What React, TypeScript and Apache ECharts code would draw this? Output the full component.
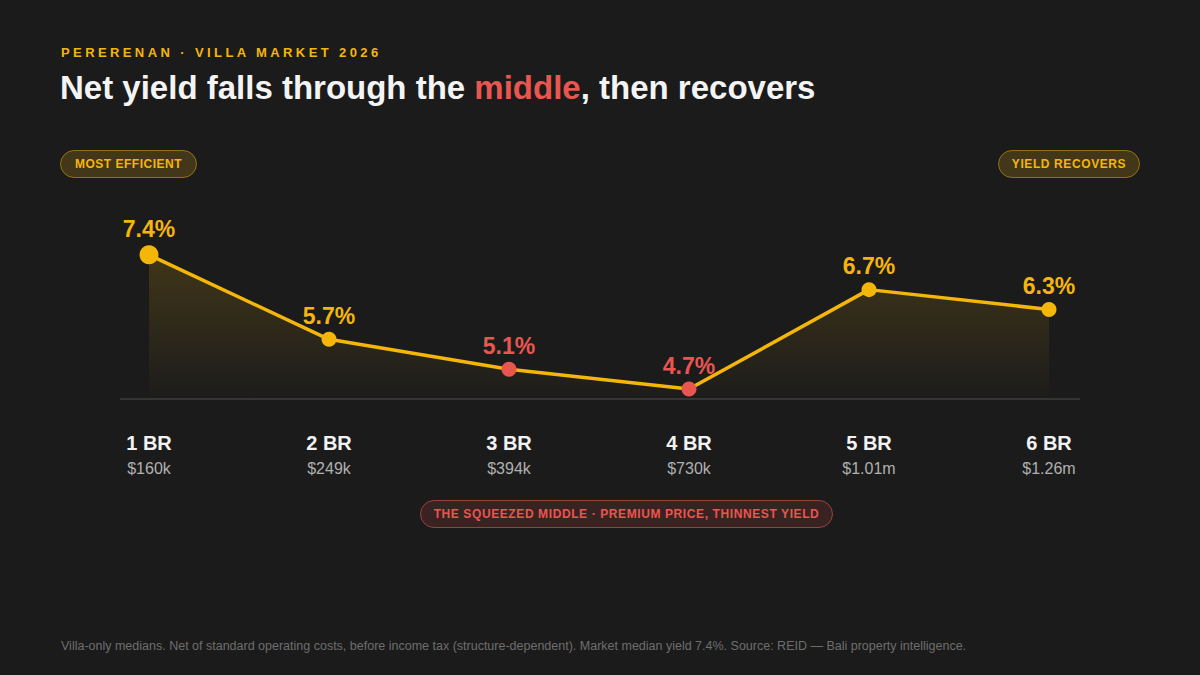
import React, { useEffect, useRef } from "react";
import * as echarts from "echarts";

const categories = ["1 BR", "2 BR", "3 BR", "4 BR", "5 BR", "6 BR"];
const prices = ["$160k", "$249k", "$394k", "$730k", "$1.01m", "$1.26m"];
const yields = [7.4, 5.7, 5.1, 4.7, 6.7, 6.3];
const squeezed = [false, false, true, true, false, false];
const featured = [true, false, false, false, false, false];

const eyebrow = "PERERENAN · VILLA MARKET 2026";
const titleA = "Net yield falls through the ";
const titleB = "middle";
const titleC = ", then recovers";
const pillLeft = "MOST EFFICIENT";
const pillRight = "YIELD RECOVERS";
const pillMiddle = "THE SQUEEZED MIDDLE · PREMIUM PRICE, THINNEST YIELD";
const footnote =
  "Villa-only medians. Net of standard operating costs, before income tax (structure-dependent). Market median yield 7.4%. Source: REID — Bali property intelligence.";

const BG = "#1b1b1b";
const GOLD = "#F5B60A";
const RED = "#E8564F";
const FONT = "'Liberation Sans', Arial, Helvetica, sans-serif";

const spacingMap: Record<string, string> = {
  [eyebrow]: "3.4px",
  [pillLeft]: "0.5px",
  [pillRight]: "0.6px",
  [pillMiddle]: "0.6px",
};

export default function App() {
  const ref = useRef<HTMLDivElement>(null);

  useEffect(() => {
    document.body.style.margin = "0";
    document.body.style.background = BG;
    const el = ref.current!;
    const chart = echarts.init(el, undefined, { renderer: "svg" });

    const data = yields.map((v, i) => ({
      value: v,
      symbolSize: featured[i] ? 19 : 15,
      itemStyle: { color: squeezed[i] ? RED : GOLD },
      label: { color: squeezed[i] ? RED : GOLD },
    }));

    const pill = (
      x: number,
      y: number,
      w: number,
      h: number,
      text: string,
      color: string,
      fill: string,
      stroke: string
    ) => [
      {
        type: "rect",
        shape: { x, y, width: w, height: h, r: h / 2 },
        style: { fill, stroke, lineWidth: 1 },
        silent: true,
      },
      {
        type: "text",
        x: x + w / 2,
        y: y + h / 2,
        style: {
          text,
          fill: color,
          font: `bold 12px ${FONT}`,
          align: "center",
          verticalAlign: "middle",
        },
        silent: true,
      },
    ];

    const option: any = {
      animation: false,
      backgroundColor: BG,
      grid: { left: 149, right: 151, top: 225, bottom: 276 },
      xAxis: {
        type: "category",
        data: categories,
        boundaryGap: false,
        axisLine: { show: false },
        axisTick: { show: false },
        splitLine: { show: false },
        axisLabel: {
          interval: 0,
          margin: 31,
          formatter: (v: string, i: number) => `{n|${v}}\n{p|${prices[i]}}`,
          rich: {
            n: {
              fontSize: 20,
              fontWeight: "bold",
              color: "#f2f2f2",
              fontFamily: FONT,
              lineHeight: 26,
            },
            p: {
              fontSize: 16,
              color: "#b0b0b0",
              fontFamily: FONT,
              lineHeight: 24,
            },
          },
        },
      },
      yAxis: {
        type: "value",
        min: 4.5,
        max: 8,
        show: false,
        splitLine: { show: false },
      },
      series: [
        {
          type: "line",
          data,
          symbol: "circle",
          lineStyle: { color: GOLD, width: 3.5 },
          areaStyle: {
            origin: "start",
            color: new echarts.graphic.LinearGradient(0, 0, 0, 1, [
              { offset: 0, color: "rgba(245,182,10,0.24)" },
              { offset: 1, color: "rgba(245,182,10,0.01)" },
            ]),
          },
          label: {
            show: true,
            position: "top",
            distance: 5,
            fontSize: 23,
            fontWeight: "bold",
            fontFamily: FONT,
            lineHeight: 22,
            formatter: (p: any) => `${p.value.toFixed(1)}%`,
          },
          emphasis: { disabled: true },
          z: 5,
        },
      ],
      graphic: [
        {
          type: "line",
          shape: { x1: 120, y1: 399, x2: 1080, y2: 399 },
          style: { stroke: "#353535", lineWidth: 2 },
          silent: true,
          z: 1,
        },
        {
          type: "text",
          x: 61,
          y: 52,
          style: {
            text: eyebrow,
            fill: GOLD,
            font: `bold 13px ${FONT}`,
            verticalAlign: "middle",
          },
          silent: true,
        },
        {
          type: "text",
          x: 60,
          y: 87,
          style: {
            text: `{a|${titleA}}{b|${titleB}}{a|${titleC}}`,
            font: `bold 33px ${FONT}`,
            verticalAlign: "middle",
            rich: {
              a: { fill: "#f4f4f4", fontSize: 33, fontWeight: "bold", fontFamily: FONT },
              b: { fill: RED, fontSize: 33, fontWeight: "bold", fontFamily: FONT },
            },
          },
          silent: true,
        },
        ...pill(60.5, 150.5, 136, 27, pillLeft, GOLD, "rgba(245,182,10,0.18)", "rgba(245,182,10,0.5)"),
        ...pill(998.5, 150.5, 141, 27, pillRight, GOLD, "rgba(245,182,10,0.18)", "rgba(245,182,10,0.5)"),
        ...pill(420.5, 500.5, 412, 27, pillMiddle, RED, "rgba(232,86,79,0.14)", "rgba(232,86,79,0.6)"),
        {
          type: "text",
          x: 61,
          y: 646,
          style: {
            text: footnote,
            fill: "#6e6e6e",
            font: `12.5px ${FONT}`,
            verticalAlign: "middle",
          },
          silent: true,
        },
      ],
    };

    const applySpacing = () => {
      el.querySelectorAll("text").forEach((t) => {
        const s = spacingMap[(t.textContent || "").trim()];
        if (s) t.setAttribute("letter-spacing", s);
      });
    };
    chart.on("rendered", applySpacing);
    chart.setOption(option);
    applySpacing();
    const timer = setTimeout(applySpacing, 50);

    return () => {
      clearTimeout(timer);
      chart.dispose();
    };
  }, []);

  return <div ref={ref} style={{ width: 1200, height: 675, background: BG }} />;
}
